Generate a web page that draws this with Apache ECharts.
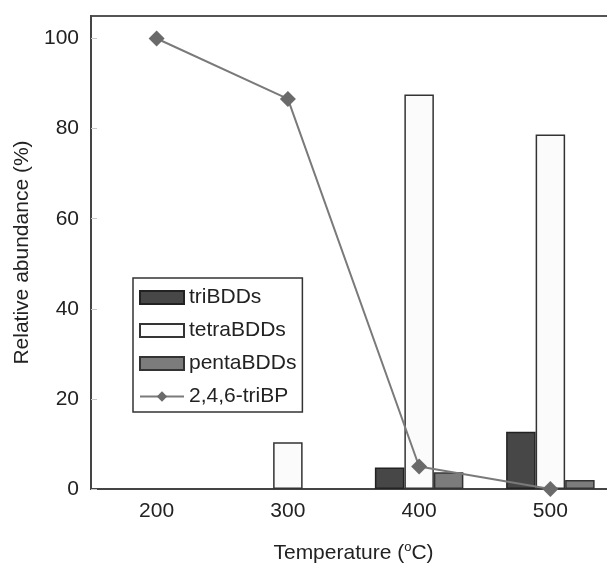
<!DOCTYPE html>
<html>
<head>
<meta charset="utf-8">
<script src="https://cdn.jsdelivr.net/npm/echarts@6/dist/echarts.min.js"></script>
<style>
html, body { margin: 0; padding: 0; background: #fff; }
#main { width: 607px; height: 563px; }
</style>
</head>
<body>
<div id="main"></div>
<script>
var temps = ['200', '300', '400', '500'];
var triBDDs = [0, 0, 4.8, 12.7];
var tetraBDDs = [0, 10.4, 87.6, 78.7];
var pentaBDDs = [0, 0, 3.7, 2.0];
var triBP = [100, 86.6, 5.0, 0];

// empty bars are not drawn at all
function bars(arr) {
    return arr.map(function (v) { return v === 0 ? '-' : v; });
}

var myChart = echarts.init(document.getElementById('main'));

var font = 'Liberation Sans, Arial, sans-serif';

var option = {
    backgroundColor: '#ffffff',
    textStyle: { fontFamily: font },
    grid: {
        left: 91,
        width: 525,
        top: 16,
        bottom: 74,
        outerBoundsMode: 'none',
        containLabel: false,
        show: true,
        borderColor: '#555',
        borderWidth: 2
    },
    legend: {
        orient: 'vertical',
        left: 133,
        top: 278,
        padding: [9, 6, 5, 6],
        itemWidth: 44,
        itemHeight: 13,
        itemGap: 12,
        backgroundColor: '#ffffff',
        borderColor: '#333',
        borderWidth: 1.5,
        textStyle: { fontSize: 21, color: '#222', fontFamily: font },
        data: [
            { name: 'triBDDs', icon: 'rect' },
            { name: 'tetraBDDs', icon: 'rect' },
            { name: 'pentaBDDs', icon: 'rect' },
            { name: '2,4,6-triBP' }
        ]
    },
    xAxis: {
        type: 'category',
        data: temps,
        name: 'Temperature ({s|o}C)',
        nameLocation: 'middle',
        nameGap: 52,
        nameTextStyle: {
            fontSize: 21,
            color: '#222',
            rich: {
                s: { fontSize: 13, color: '#222', padding: [0, 0, 11, 0] }
            }
        },
        axisLine: { lineStyle: { color: '#444', width: 2 } },
        axisTick: { inside: true, length: 5, lineStyle: { color: '#c8c8c8' } },
        axisLabel: { fontSize: 21, color: '#222', margin: 12 }
    },
    yAxis: {
        type: 'value',
        min: 0,
        max: 105,
        interval: 20,
        name: 'Relative abundance (%)',
        nameLocation: 'middle',
        nameGap: 55,
        nameTextStyle: { fontSize: 21, color: '#222' },
        axisLine: { show: true, lineStyle: { color: '#444', width: 2 } },
        axisTick: { show: true, inside: true, length: 6, lineStyle: { color: '#c8c8c8' } },
        axisLabel: { fontSize: 21, color: '#222', margin: 12, showMaxLabel: false },
        splitLine: { show: false }
    },
    series: [
        {
            name: 'triBDDs',
            type: 'bar',
            barWidth: 29.5,
            barGap: '0%',
            itemStyle: { color: '#474747', borderColor: '#222', borderWidth: 1.5 },
            data: bars(triBDDs)
        },
        {
            name: 'tetraBDDs',
            type: 'bar',
            barWidth: 29.5,
            barGap: '0%',
            itemStyle: { color: '#fbfbfb', borderColor: '#333', borderWidth: 1.5 },
            data: bars(tetraBDDs)
        },
        {
            name: 'pentaBDDs',
            type: 'bar',
            barWidth: 29.5,
            barGap: '0%',
            itemStyle: { color: '#7c7c7c', borderColor: '#333', borderWidth: 1.5 },
            data: bars(pentaBDDs)
        },
        {
            name: '2,4,6-triBP',
            type: 'line',
            symbol: 'diamond',
            symbolSize: 16,
            z: 5,
            lineStyle: { color: '#7a7a7a', width: 2 },
            itemStyle: { color: '#6a6a6a' },
            data: triBP
        }
    ]
};
myChart.setOption(option);
</script>
</body>
</html>
